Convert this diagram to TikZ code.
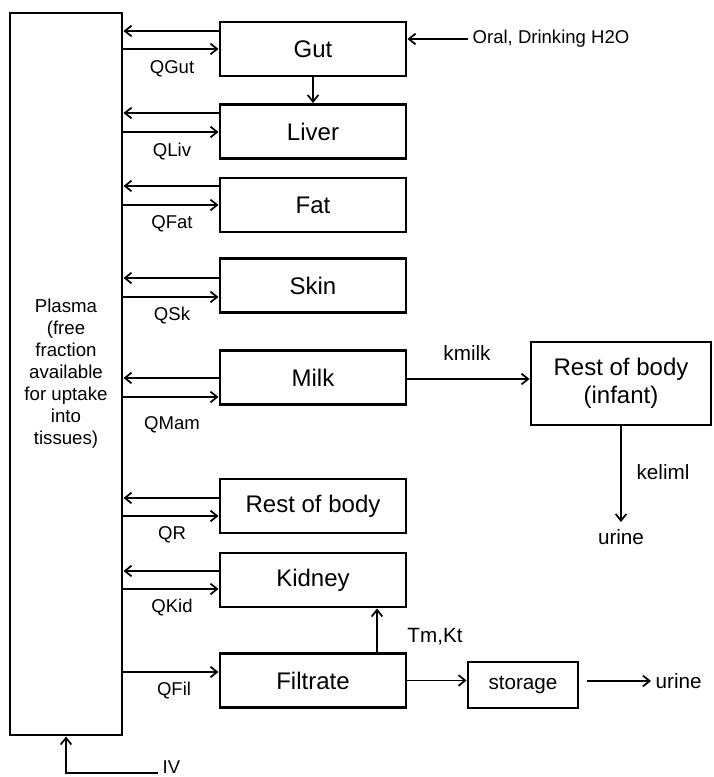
\documentclass[tikz,border=0pt]{standalone}
\usepackage{fontspec}
\setmainfont{Liberation Sans}
\usetikzlibrary{arrows.meta}

\begin{document}
\begin{tikzpicture}[x=0.75pt, y=-0.75pt,
    organ/.style={draw, line width=2.2pt, minimum width=139.5pt, minimum height=40.5pt,
      inner sep=0pt, font=\fontsize{18}{21}\selectfont},
    flow/.style={line width=1.3pt, -{Straight Barb[length=5pt,width=8pt,line width=1.3pt]}},
    qlab/.style={font=\fontsize{13.9}{16}\selectfont},
    lab/.style={font=\fontsize{15.5}{18}\selectfont}]
  \useasboundingbox (0,0) rectangle (713,777);
  % plasma
  \node[draw, line width=2.2pt, minimum width=84pt, minimum height=541.5pt, align=center,
    font=\fontsize{14}{16.5}\selectfont] (plasma) at (66,374)
    {Plasma\\(free\\fraction\\available\\for uptake\\into\\tissues)};
  % organs exchanging with plasma
  \foreach \name/\txt/\yc/\yup/\ydn/\yq/\flowname in {
      gut/Gut/49/31/49/69/QGut,
      liver/Liver/131.5/113/132/152/QLiv,
      fat/Fat/205/186/205/224/QFat,
      skin/Skin/285.5/278/297/316/QSk,
      milk/Milk/377.5/378/397/425/QMam,
      rest/Rest of body/506/498/516/535/QR,
      kidney/Kidney/580/571/589/608/QKid}{
    \node[organ] (\name) at (313,\yc) {\txt};
    \draw[flow] (\name.west |- 0,\yup) -- (plasma.east |- 0,\yup);
    \draw[flow] (plasma.east |- 0,\ydn) -- (\name.west |- 0,\ydn);
    \node[qlab] (q\name) at (172,\yq) {\flowname};
  }
  % filtrate
  \node[organ] (filtrate) at (313,680.5) {Filtrate};
  \draw[flow] (plasma.east |- 0,672) -- (filtrate.west |- 0,672);
  \node[qlab] (qfiltrate) at (174,691) {QFil};
  % oral intake
  \node[qlab, anchor=west] (oral) at (468,39) {Oral, Drinking H2O};
  \draw[flow] (oral.west) -- (gut.east |- oral.west);
  \draw[flow] (gut) -- (liver);
  % infant
  \node[organ, minimum width=135pt, minimum height=62.25pt, align=center] (infant) at (621,383.5)
    {Rest of body\\(infant)};
  \draw[flow] (milk.east |- 0,379) -- (infant.west |- 0,379);
  \node[lab] (kmilk) at (467,353) {kmilk};
  \node[lab] (urineA) at (621,537) {urine};
  \draw[flow, shorten >=2pt] (infant.south) -- (urineA.north);
  \node[lab] (kelim) at (663,472) {keliml};
  % kidney reabsorption and storage
  \draw[flow] ([xshift=48pt]filtrate.north) -- ([xshift=48pt]kidney.south);
  \node[lab] (tmkt) at (435,637) {Tm,Kt};
  \node[organ, minimum width=82.5pt, minimum height=34.5pt, font=\fontsize{15.5}{18}\selectfont]
    (storage) at (523,685) {storage};
  \draw[flow] (filtrate.east) -- (storage.west |- filtrate.east);
  \node[lab, anchor=west] (urineB) at (651,681) {urine};
  \draw[flow, shorten <=6pt] (storage.east |- urineB.west) -- (urineB.west);
  % intravenous
  \node[qlab, anchor=west] (iv) at (158,767) {IV};
  \draw[flow] ([yshift=-4.5pt]iv.west) -| (plasma.south);
\end{tikzpicture}
\end{document}
